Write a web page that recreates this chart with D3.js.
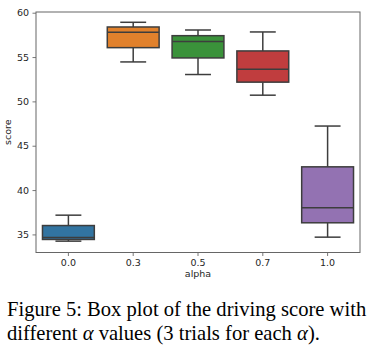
<!DOCTYPE html>
<html>
<head>
<meta charset="utf-8">
<script src="https://cdn.jsdelivr.net/npm/d3@7"></script>
<style>
  html, body { margin: 0; padding: 0; background: #fff; }
  svg { display: block; }
</style>
</head>
<body>
<svg id="chart" width="371" height="351"></svg>
<script>
// ---- data ----
const categories  = ["0.0", "0.3", "0.5", "0.7", "1.0"];
const whiskerLow  = [34.24, 54.45, 53.03, 50.70, 34.69];
const q1          = [34.43, 56.06, 54.90, 52.17, 36.31];
const median      = [34.65, 57.79, 56.74, 53.63, 38.00];
const q3          = [36.00, 58.39, 57.41, 55.69, 42.62];
const whiskerHigh = [37.17, 58.92, 58.05, 57.83, 47.22];
const boxColors   = ["#3274a1", "#e1812c", "#3a923a", "#c03d3e", "#9372b2"];
const yTicks      = [35, 40, 45, 50, 55, 60];
const xLabel = "alpha";
const yLabel = "score";
const captionLines = ["Figure 5: Box plot of the driving score with", "different \u03b1 values (3 trials for each \u03b1)."];

// ---- layout ----
const svg = d3.select("#chart");
const plot = { left: 36, top: 12, right: 360, bottom: 252.5 };

const x = d3.scaleBand().domain(categories)
  .range([plot.left, plot.right]).paddingInner(0).paddingOuter(0);
const y = d3.scaleLinear().domain([32.96, 60.08]).range([plot.bottom, plot.top]);

const lineColor = "#3d3d3d";
const data = categories.map((c, i) => ({
  c, lo: whiskerLow[i], q1: q1[i], med: median[i], q3: q3[i], hi: whiskerHigh[i], color: boxColors[i]
}));

const boxW = x.bandwidth() * 0.8;
const capW = boxW * 0.5;

const g = svg.append("g");
const boxes = g.selectAll("g.box").data(data).join("g").attr("class", "box");
const cx = d => x(d.c) + x.bandwidth() / 2;

// whiskers
boxes.append("line")
  .attr("x1", cx).attr("x2", cx)
  .attr("y1", d => y(d.q3)).attr("y2", d => y(d.hi))
  .attr("stroke", lineColor).attr("stroke-width", 1.5);
boxes.append("line")
  .attr("x1", cx).attr("x2", cx)
  .attr("y1", d => y(d.q1)).attr("y2", d => y(d.lo))
  .attr("stroke", lineColor).attr("stroke-width", 1.5);
// caps
boxes.append("line")
  .attr("x1", d => cx(d) - capW / 2).attr("x2", d => cx(d) + capW / 2)
  .attr("y1", d => y(d.hi)).attr("y2", d => y(d.hi))
  .attr("stroke", lineColor).attr("stroke-width", 1.5);
boxes.append("line")
  .attr("x1", d => cx(d) - capW / 2).attr("x2", d => cx(d) + capW / 2)
  .attr("y1", d => y(d.lo)).attr("y2", d => y(d.lo))
  .attr("stroke", lineColor).attr("stroke-width", 1.5);
// box
boxes.append("rect")
  .attr("x", d => cx(d) - boxW / 2)
  .attr("width", boxW)
  .attr("y", d => y(d.q3))
  .attr("height", d => y(d.q1) - y(d.q3))
  .attr("fill", d => d.color)
  .attr("stroke", lineColor).attr("stroke-width", 1.5);
// median
boxes.append("line")
  .attr("x1", d => cx(d) - boxW / 2).attr("x2", d => cx(d) + boxW / 2)
  .attr("y1", d => y(d.med)).attr("y2", d => y(d.med))
  .attr("stroke", lineColor).attr("stroke-width", 1.5);

// ---- axes ----
const axisFont = "DejaVu Sans, sans-serif";
const yAxis = svg.append("g").attr("transform", `translate(${plot.left},0)`)
  .call(d3.axisLeft(y).tickValues(yTicks).tickSize(3.5).tickPadding(3.5).tickFormat(d3.format("d")));
const xAxis = svg.append("g").attr("transform", `translate(0,${plot.bottom})`)
  .call(d3.axisBottom(x).tickSize(3.5).tickPadding(3.5));
[xAxis, yAxis].forEach(a => {
  a.select(".domain").remove();
  a.selectAll(".tick line").attr("stroke", "#555").attr("stroke-width", 0.8);
  a.selectAll(".tick text").attr("fill", "#262626").style("font-family", axisFont).style("font-size", "9.5px");
});

// frame (spines)
svg.append("rect")
  .attr("x", plot.left).attr("y", plot.top)
  .attr("width", plot.right - plot.left).attr("height", plot.bottom - plot.top)
  .attr("fill", "none").attr("stroke", "#666").attr("stroke-width", 1);

// axis labels
svg.append("text")
  .attr("x", (plot.left + plot.right) / 2).attr("y", 277)
  .attr("text-anchor", "middle")
  .style("font-family", axisFont).style("font-size", "9.5px").attr("fill", "#262626")
  .text(xLabel);
svg.append("text")
  .attr("transform", `translate(11,${(plot.top + plot.bottom) / 2}) rotate(-90)`)
  .attr("text-anchor", "middle")
  .style("font-family", axisFont).style("font-size", "9.5px").attr("fill", "#262626")
  .text(yLabel);

// caption
const cap = svg.append("g").style("font-family", "Liberation Serif, Times New Roman, serif")
  .style("font-size", "20.6px").attr("fill", "#000");
captionLines.forEach((line, i) => {
  const t = cap.append("text").attr("x", 7).attr("y", 315.5 + i * 24.5);
  line.split(/(\u03b1)/).forEach(part => {
    if (!part) return;
    const ts = t.append("tspan").text(part);
    if (part === "\u03b1") ts.style("font-style", "italic");
  });
});
</script>
</body>
</html>
